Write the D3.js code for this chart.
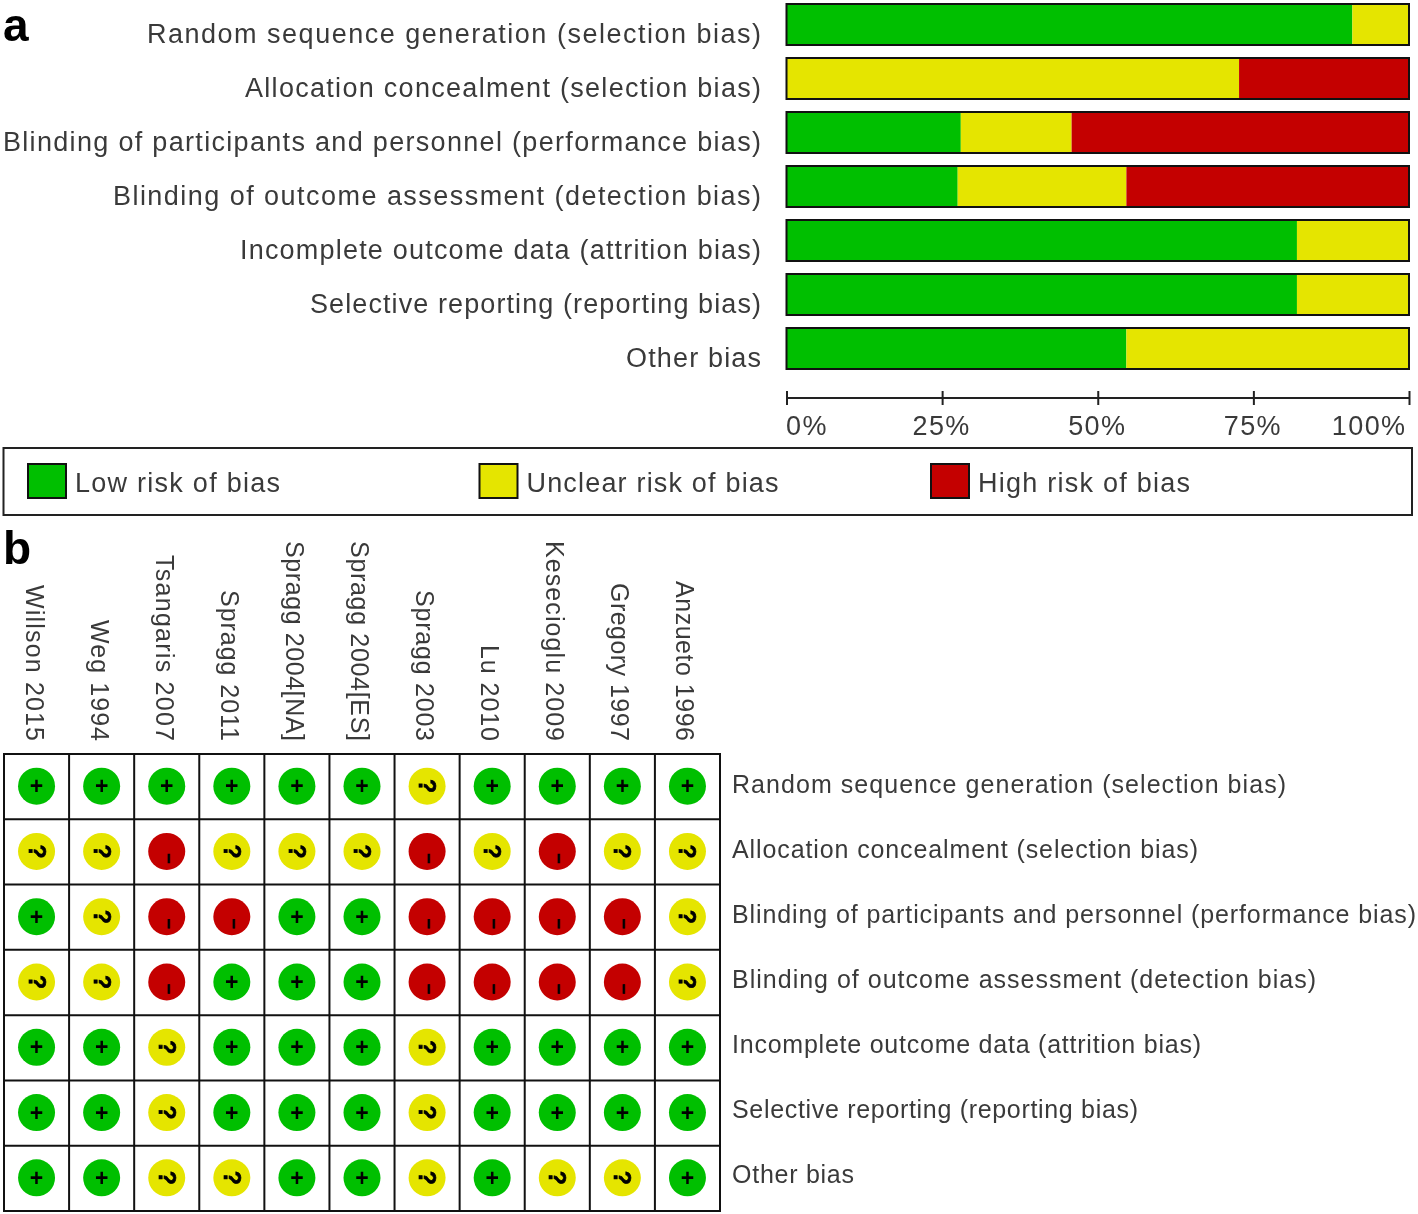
<!DOCTYPE html>
<html><head><meta charset="utf-8">
<script src="https://cdn.jsdelivr.net/npm/d3@7"></script>
<style>html,body{margin:0;padding:0;background:#fff}svg{display:block;filter:blur(0.65px)}
text{font-family:"Liberation Sans",Arial,sans-serif;fill:#3a3a3a}</style></head>
<body><svg id="c" width="1418" height="1214"></svg>
<script>
const domains = ["Random sequence generation (selection bias)","Allocation concealment (selection bias)","Blinding of participants and personnel (performance bias)","Blinding of outcome assessment (detection bias)","Incomplete outcome data (attrition bias)","Selective reporting (reporting bias)","Other bias"];
const lowPct = [90.9,0,28,27.5,82,82,54.6];
const unclearPct = [9.1,72.7,17.8,27.1,18,18,45.4];
const highPct = [0,27.3,54.2,45.4,0,0,0];
const riskLabels = ["Low risk of bias","Unclear risk of bias","High risk of bias"];
const riskColors = ["#00bf00","#e5e500","#c40000"];
const tickValues = [0,25,50,75,100];
const studies = ["Willson 2015","Weg 1994","Tsangaris 2007","Spragg 2011","Spragg 2004[NA]","Spragg 2004[ES]","Spragg 2003","Lu 2010","Kesecioglu 2009","Gregory 1997","Anzueto 1996"];
const judgements = [
 "++++++?++++",
 "??-???-?-??",
 "+?--++----?",
 "??-+++----?",
 "++?+++?++++",
 "++?+++?++++",
 "++??++?+??+"
];
// rendered label lengths, so the text spans the same width as the reference
const leftLabelLen = [614,516,758,648,521,451,135];
const rightLabelLen = [554,466,684,584,469,406,122];
const studyLabelLen = [156,121,186,151,200,200,151,96,200,158,160];
const legendLabelLen = [205,252,212];

const svg = d3.select("#c");
const root = svg.append("g");

// panel letters
root.append("text").attr("x",3).attr("y",41).text("a").style("font","bold 46px 'Liberation Sans'").style("fill","#000");
root.append("text").attr("x",3).attr("y",564).text("b").style("font","bold 46px 'Liberation Sans'").style("fill","#000");

// panel a
const x = d3.scaleLinear().domain([0,100]).range([786.5,1409]);
const y = d3.scaleBand().domain(domains).range([4,369]).paddingInner(13/54).paddingOuter(0);
const stack = domains.map((d,i)=>({d,i,parts:[lowPct[i],unclearPct[i],highPct[i]]}));
const rowsA = root.append("g").selectAll("g").data(stack).join("g");
rowsA.each(function(r){
  let acc=0; const g=d3.select(this);
  r.parts.forEach((p,k)=>{ if(p>0){ g.append("rect").attr("x",x(acc)).attr("width",x(acc+p)-x(acc)).attr("y",y(r.d)).attr("height",y.bandwidth()).attr("fill",riskColors[k]); acc+=p; }});
  g.append("rect").attr("x",x(0)).attr("width",x(100)-x(0)).attr("y",y(r.d)).attr("height",y.bandwidth()).attr("fill","none").attr("stroke","#111").attr("stroke-width",2);
});
rowsA.append("text").attr("x",761).attr("y",r=>y(r.d)+y.bandwidth()/2+18.5).attr("text-anchor","end")
  .attr("textLength",r=>leftLabelLen[r.i]).attr("lengthAdjust","spacing")
  .style("font-size","27px").text(r=>r.d);

const axisG = root.append("g").attr("transform","translate(0,398)")
  .call(d3.axisBottom(x).tickValues(tickValues).tickSize(7).tickFormat(d=>d+"%"));
axisG.selectAll(".domain").attr("d",`M${x(0)},0H${x(100)}`).attr("stroke","#222").attr("stroke-width",2);
axisG.selectAll(".tick line").attr("y1",-7).attr("y2",7).attr("stroke","#222").attr("stroke-width",2);
axisG.selectAll(".tick text").attr("y",18).attr("dy","0.71em").style("font-size","27px").style("letter-spacing","1.4px").style("font-family","'Liberation Sans'").style("fill","#3a3a3a")
  .attr("text-anchor",d=>d===0?"start":d===100?"end":"middle").attr("dx",d=>d===100?-3:-1);

// legend
root.append("rect").attr("x",3.5).attr("y",448).attr("width",1408.5).attr("height",67).attr("fill","none").attr("stroke","#222").attr("stroke-width",2);
const lx = d3.scalePoint().domain(riskLabels).range([28,931]);
const lg = root.append("g").selectAll("g").data(riskLabels).join("g").attr("transform",d=>`translate(${lx(d)},464)`);
lg.append("rect").attr("width",38).attr("height",34).attr("fill",(d,i)=>riskColors[i]).attr("stroke","#111").attr("stroke-width",2);
lg.append("text").attr("x",47).attr("y",28).attr("textLength",(d,i)=>legendLabelLen[i]).attr("lengthAdjust","spacing").style("font-size","27px").text(d=>d);

// panel b
const cx = d3.scaleBand().domain(studies).range([4,720]);
const cy = d3.scaleBand().domain(domains).range([754,1211]);
const labelY = d3.scalePoint().domain(domains).range([785,1175]);
const gb = root.append("g");
gb.selectAll("text.study").data(studies).join("text").attr("class","study")
  .attr("transform",d=>`translate(${cx(d)+cx.bandwidth()/2-11},741) rotate(90)`)
  .attr("text-anchor","end").attr("textLength",(d,i)=>studyLabelLen[i]).attr("lengthAdjust","spacing")
  .style("font-size","25px").text(d=>d);
gb.selectAll("text.domain").data(domains).join("text").attr("class","domain")
  .attr("x",732).attr("y",d=>labelY(d)+8)
  .attr("textLength",(d,i)=>rightLabelLen[i]).attr("lengthAdjust","spacing")
  .style("font-size","25px").text(d=>d);
const cells = judgements.flatMap((row,i)=>[...row].map((j,k)=>({d:domains[i],s:studies[k],j})));
const colorOf = {"+":riskColors[0],"?":riskColors[1],"-":riskColors[2]};
gb.selectAll("circle").data(cells).join("circle")
  .attr("cx",c=>cx(c.s)+cx.bandwidth()/2).attr("cy",c=>cy(c.d)+cy.bandwidth()/2-0.5).attr("r",18.5).attr("fill",c=>colorOf[c.j]);
gb.selectAll("text.sym").data(cells).join("text").attr("class","sym")
  .attr("transform",c=>{
    const px=cx(c.s)+cx.bandwidth()/2, py=cy(c.d)+cy.bandwidth()/2-0.5;
    return c.j==="+"?`translate(${px},${py+8})`:c.j==="?"?`translate(${px-8},${py})rotate(90)`:`translate(${px-3},${py+7})rotate(90)`;
  })
  .attr("text-anchor","middle").style("font-weight","bold").style("fill","#000")
  .style("stroke","#000").style("stroke-width",c=>c.j==="+"?0:0.7)
  .style("font-size",c=>c.j==="+"?"23px":c.j==="?"?"23px":"18px")
  .text(c=>c.j==="-"?"–":c.j);
gb.append("g").selectAll("line").data(d3.range(studies.length+1)).join("line")
  .attr("x1",i=>cx.step()*i+cx.range()[0]).attr("x2",i=>cx.step()*i+cx.range()[0]).attr("y1",cy.range()[0]).attr("y2",cy.range()[1]).attr("stroke","#111").attr("stroke-width",2);
gb.append("g").selectAll("line").data(d3.range(domains.length+1)).join("line")
  .attr("y1",i=>cy.step()*i+cy.range()[0]).attr("y2",i=>cy.step()*i+cy.range()[0]).attr("x1",cx.range()[0]-1).attr("x2",cx.range()[1]+1).attr("stroke","#111").attr("stroke-width",2);
</script></body></html>
